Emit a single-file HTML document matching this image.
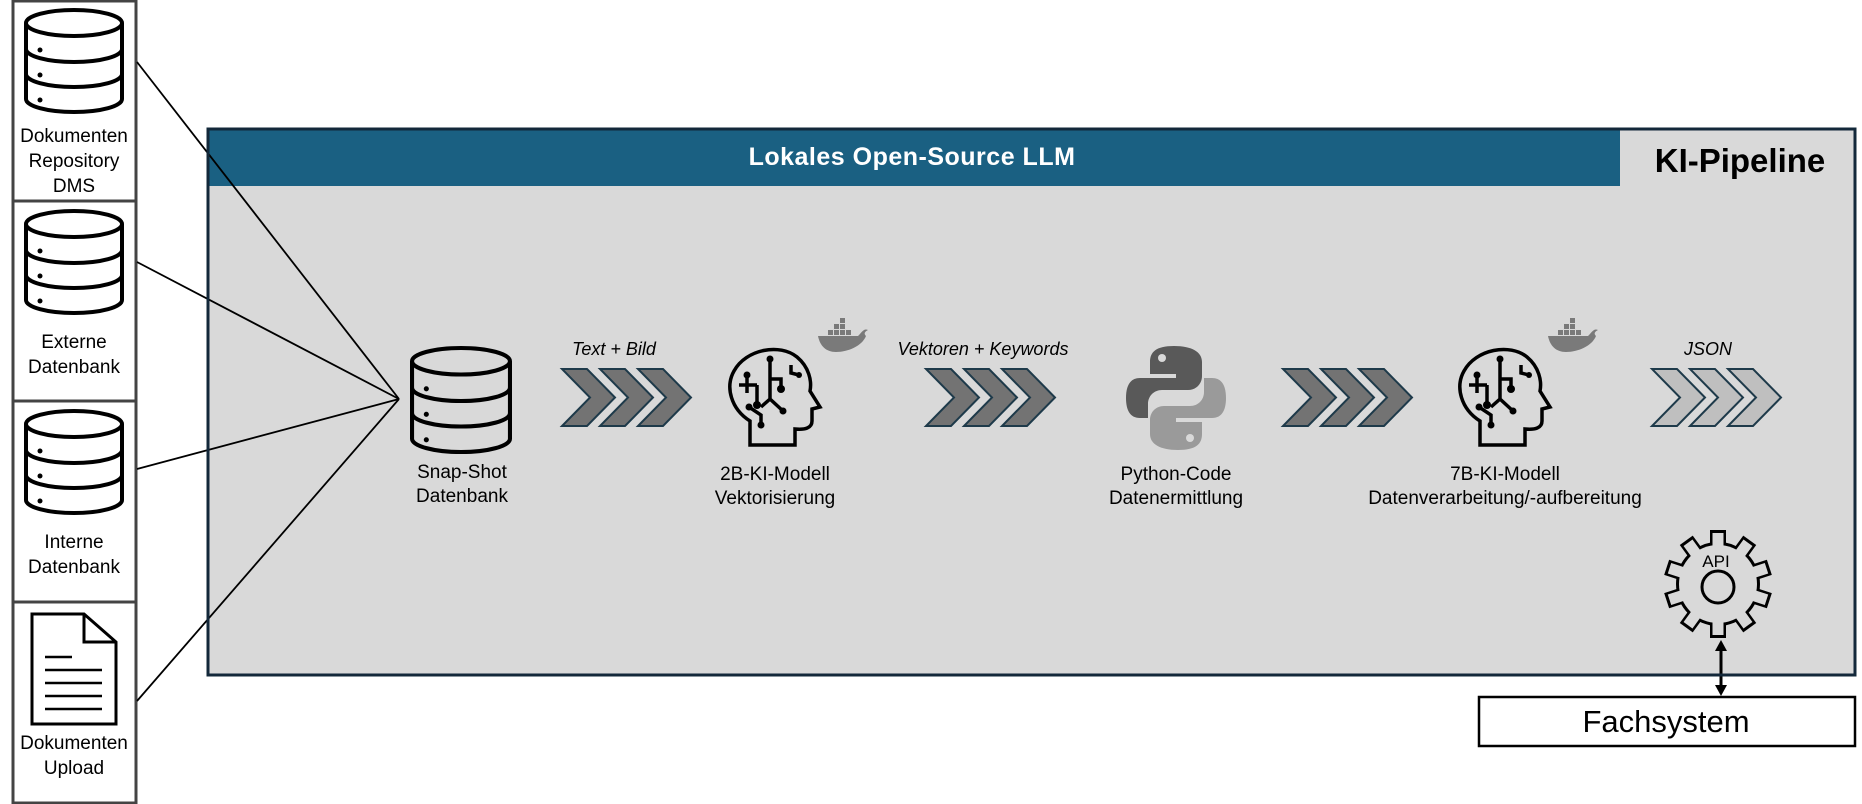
<!DOCTYPE html>
<html><head><meta charset="utf-8"><style>
html,body{margin:0;padding:0;background:#fff;}
svg{display:block;}
text{font-family:"Liberation Sans","DejaVu Sans",sans-serif;}
</style></head><body>
<svg width="1862" height="804" viewBox="0 0 1862 804" xmlns="http://www.w3.org/2000/svg">
<defs>
<g id="db">
 <ellipse cx="0" cy="-38" rx="48" ry="13" fill="none" stroke="#000" stroke-width="4"/>
 <path d="M-48,-38 V38 A48,13 0 0 0 48,38 V-38" fill="none" stroke="#000" stroke-width="4"/>
 <path d="M-48,-12 A48,13 0 0 0 48,-12 M-48,13 A48,13 0 0 0 48,13" fill="none" stroke="#000" stroke-width="4"/>
 <circle cx="-34" cy="-11" r="2.5"/><circle cx="-34" cy="14" r="2.5"/><circle cx="-34" cy="39" r="2.5"/>
</g>
<polygon id="chev" points="0,0 25,0 53,28.5 25,57 0,57 28,28.5"/>
<g id="head" fill="none" stroke="#000" stroke-width="3.5">
 <path d="M25,100 V76 C6,64 0,42 9,26 C21,4 55,-2 72,12 C84,22 87,36 85,46 L95,62 L87,64 V76 C87,83 80,85 70,84 V100 Z" fill="none"/>
 <path d="M22,30 V48 M14,40 H32 M32,40 V60 M45,14 V34 H56 V44 M45,34 V54 L36,62 M45,54 L58,66 M24,62 L36,70 V80 M66,20 V28 L74,30"/>
 <g fill="#000" stroke="none"><circle cx="22" cy="30" r="3.5"/><circle cx="32" cy="60" r="4"/><circle cx="45" cy="14" r="3.5"/><circle cx="56" cy="44" r="4"/><circle cx="58" cy="66" r="3.5"/><circle cx="24" cy="62" r="3.5"/><circle cx="36" cy="80" r="3.5"/><circle cx="74" cy="30" r="3"/></g>
</g>
<g id="whale" fill="#7a7a7a">
 <path d="M0,14 H40 C44,10 46,6 50,8 C46,10 46,12 48,14 C44,24 30,30 18,30 C8,30 2,24 0,14 Z"/>
 <rect x="10" y="8" width="5" height="5"/><rect x="16" y="8" width="5" height="5"/><rect x="22" y="8" width="5" height="5"/><rect x="28" y="8" width="5" height="5"/>
 <rect x="16" y="2" width="5" height="5"/><rect x="22" y="2" width="5" height="5"/><rect x="22" y="-4" width="5" height="5"/>
</g>
</defs>

<rect x="208" y="129" width="1647" height="546" fill="#d9d9d9" stroke="#13283a" stroke-width="3"/>
<rect x="209" y="130" width="1411" height="56" fill="#1a6082"/>
<text x="912" y="165" font-size="25" font-weight="bold" fill="#fff" text-anchor="middle" letter-spacing="0.5">Lokales Open-Source LLM</text>
<text x="1740" y="172" font-size="33" font-weight="bold" fill="#000" text-anchor="middle">KI-Pipeline</text>

<rect x="13" y="1" width="123" height="802" fill="#fff" stroke="#444" stroke-width="3"/>
<line x1="13" y1="201" x2="136" y2="201" stroke="#444" stroke-width="3"/>
<line x1="13" y1="401" x2="136" y2="401" stroke="#444" stroke-width="3"/>
<line x1="13" y1="602" x2="136" y2="602" stroke="#444" stroke-width="3"/>
<use href="#db" transform="translate(74,61)"/>
<use href="#db" transform="translate(74,262)"/>
<use href="#db" transform="translate(74,462)"/>
<g font-size="19" text-anchor="middle" fill="#000">
<text x="74" y="142">Dokumenten</text><text x="74" y="167">Repository</text><text x="74" y="192">DMS</text>
<text x="74" y="348">Externe</text><text x="74" y="373">Datenbank</text>
<text x="74" y="548">Interne</text><text x="74" y="573">Datenbank</text>
<text x="74" y="749">Dokumenten</text><text x="74" y="774">Upload</text>
</g>
<path d="M32,614 H84 L116,642 V724 H32 Z M84,614 V642 H116" fill="#fff" stroke="#000" stroke-width="3"/>
<path d="M45,657 H72 M45,670 H102 M45,683 H102 M45,696 H102 M45,709 H102" stroke="#000" stroke-width="2.5"/>

<g stroke="#000" stroke-width="1.8">
<line x1="137" y1="62" x2="399" y2="399"/>
<line x1="137" y1="262" x2="399" y2="399"/>
<line x1="137" y1="469" x2="399" y2="399"/>
<line x1="137" y1="701" x2="399" y2="399"/>
</g>

<use href="#db" transform="translate(461,400) scale(1.02)"/>
<g font-size="19" text-anchor="middle" fill="#000">
<text x="462" y="478">Snap-Shot</text><text x="462" y="502">Datenbank</text>
<text x="775" y="480">2B-KI-Modell</text><text x="775" y="504">Vektorisierung</text>
<text x="1176" y="480">Python-Code</text><text x="1176" y="504">Datenermittlung</text>
<text x="1505" y="480">7B-KI-Modell</text><text x="1505" y="504">Datenverarbeitung/-aufbereitung</text>
</g>
<g font-size="18" font-style="italic" text-anchor="middle" fill="#000">
<text x="614" y="355">Text + Bild</text>
<text x="983" y="355">Vektoren + Keywords</text>
<text x="1708" y="355">JSON</text>
</g>

<g fill="#737373" stroke="#1e3a4a" stroke-width="2">
<use href="#chev" x="562" y="369"/><use href="#chev" x="600" y="369"/><use href="#chev" x="638" y="369"/>
<use href="#chev" x="926" y="369"/><use href="#chev" x="964" y="369"/><use href="#chev" x="1002" y="369"/>
<use href="#chev" x="1283" y="369"/><use href="#chev" x="1321" y="369"/><use href="#chev" x="1359" y="369"/>
</g>
<g fill="#bfbfbf" stroke="#1e3a4a" stroke-width="2">
<use href="#chev" x="1652" y="369"/><use href="#chev" x="1690" y="369"/><use href="#chev" x="1728" y="369"/>
</g>

<use href="#head" transform="translate(725,345)"/>
<use href="#head" transform="translate(1455,345)"/>
<use href="#whale" transform="translate(818,322)"/>
<use href="#whale" transform="translate(1548,322)"/>

<g transform="translate(1126,346)">
<path d="M48,0 C30,0 24,6 24,16 V28 H50 V32 H14 C4,32 0,40 0,52 C0,64 4,72 14,72 H22 V58 C22,50 28,44 36,44 H62 C70,44 76,38 76,30 V16 C76,6 66,0 48,0 Z" fill="#595959"/>
<circle cx="36" cy="12" r="4" fill="#d9d9d9"/>
<path d="M52,104 C70,104 76,98 76,88 V76 H50 V72 H86 C96,72 100,64 100,52 C100,40 96,32 86,32 H78 V46 C78,54 72,60 64,60 H38 C30,60 24,66 24,74 V88 C24,98 34,104 52,104 Z" fill="#9a9a9a"/>
<circle cx="64" cy="92" r="4" fill="#d9d9d9"/>
</g>

<g transform="translate(1718,584)">
<g fill="#000">
<circle r="42"/>
<rect x="-8" y="-54" width="16" height="16" transform="rotate(0)"/><rect x="-8" y="-54" width="16" height="16" transform="rotate(36)"/><rect x="-8" y="-54" width="16" height="16" transform="rotate(72)"/><rect x="-8" y="-54" width="16" height="16" transform="rotate(108)"/><rect x="-8" y="-54" width="16" height="16" transform="rotate(144)"/><rect x="-8" y="-54" width="16" height="16" transform="rotate(180)"/><rect x="-8" y="-54" width="16" height="16" transform="rotate(216)"/><rect x="-8" y="-54" width="16" height="16" transform="rotate(252)"/><rect x="-8" y="-54" width="16" height="16" transform="rotate(288)"/><rect x="-8" y="-54" width="16" height="16" transform="rotate(324)"/>
</g>
<g fill="#d9d9d9">
<circle r="39"/>
<rect x="-5.5" y="-51" width="11" height="16" transform="rotate(0)"/><rect x="-5.5" y="-51" width="11" height="16" transform="rotate(36)"/><rect x="-5.5" y="-51" width="11" height="16" transform="rotate(72)"/><rect x="-5.5" y="-51" width="11" height="16" transform="rotate(108)"/><rect x="-5.5" y="-51" width="11" height="16" transform="rotate(144)"/><rect x="-5.5" y="-51" width="11" height="16" transform="rotate(180)"/><rect x="-5.5" y="-51" width="11" height="16" transform="rotate(216)"/><rect x="-5.5" y="-51" width="11" height="16" transform="rotate(252)"/><rect x="-5.5" y="-51" width="11" height="16" transform="rotate(288)"/><rect x="-5.5" y="-51" width="11" height="16" transform="rotate(324)"/>
</g>
<circle cx="0" cy="3" r="16" fill="none" stroke="#000" stroke-width="3"/>
<text x="-2" y="-17" font-size="17" text-anchor="middle" fill="#000">API</text>
</g>

<line x1="1721" y1="648" x2="1721" y2="688" stroke="#000" stroke-width="3"/>
<polygon points="1721,640 1715,651 1727,651" fill="#000"/>
<polygon points="1721,696 1715,685 1727,685" fill="#000"/>

<rect x="1479" y="697" width="376" height="49" fill="#fff" stroke="#000" stroke-width="2.5"/>
<text x="1666" y="732" font-size="31" text-anchor="middle" fill="#000">Fachsystem</text>
<rect x="208" y="129" width="1647" height="546" fill="none" stroke="#13283a" stroke-width="3"/>
</svg>
</body></html>
